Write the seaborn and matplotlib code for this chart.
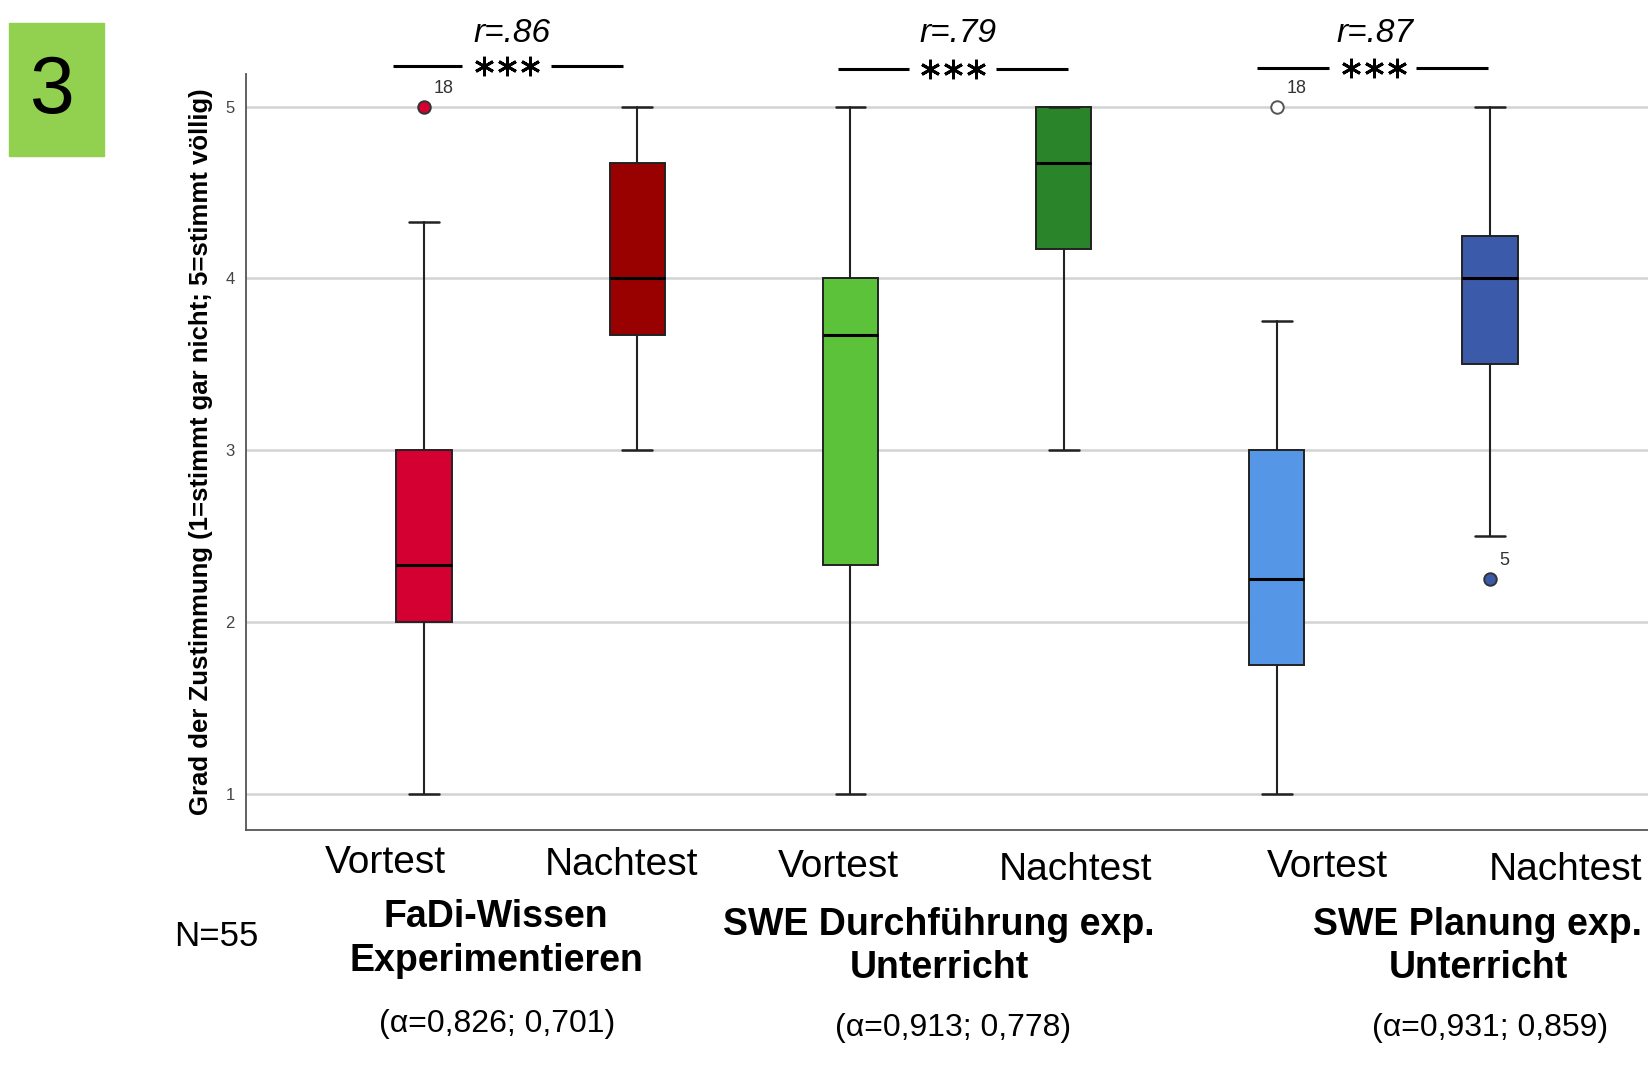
# Boxplots Vortest / Nachtest fuer drei Skalen (N=55)

import matplotlib
matplotlib.use('Agg')
import matplotlib.pyplot as plt
import seaborn as sns

sns.set_theme(style='white')
plt.rcParams['font.family'] = ['Liberation Sans', 'DejaVu Sans']
plt.rcParams['text.color'] = 'black'
plt.rcParams['axes.labelcolor'] = 'black'

# Daten
tests = ['Vortest', 'Nachtest', 'Vortest', 'Nachtest', 'Vortest', 'Nachtest']
scale_line1 = ['FaDi-Wissen', 'SWE Durchführung exp.', 'SWE Planung exp.']
scale_line2 = ['Experimentieren', 'Unterricht', 'Unterricht']
alphas = ['(α=0,826; 0,701)', '(α=0,913; 0,778)', '(α=0,931; 0,859)']
r_values = ['r=.86', 'r=.79', 'r=.87']
whislo = [1.0, 3.0, 1.0, 3.0, 1.0, 2.5]
q1 = [2.0, 3.67, 2.33, 4.17, 1.75, 3.5]
med = [2.33, 4.0, 3.67, 4.67, 2.25, 4.0]
q3 = [3.0, 4.67, 4.0, 5.0, 3.0, 4.25]
whishi = [4.33, 5.0, 5.0, 5.0, 3.75, 5.0]
fliers = [[5.0], [], [], [], [5.0], [2.25]]
flier_ids = [['18'], [], [], [], ['18'], ['5']]
colors = ['#D50032', '#990000', '#5CC23A', '#2A8429', '#5596E6', '#3C5AAA']
flier_fill = ['#D50032', None, None, None, 'white', '#3C5AAA']

# Layout (Pixelpositionen der Beschriftungen)
tick_x = [385, 622, 838, 1076, 1327, 1566]
tick_y = [863, 865, 867, 870, 867, 870]
scale_x = [496, 939, 1478]
line1_y = [917, 925, 925]
line2_y = [961, 968, 968]
alpha_x = [497, 953, 1490]
alpha_y = [1024, 1028, 1028]
r_x = [512, 958, 1375]
r_y = 34
sig_left = [(393, 462), (838, 909), (1257, 1329)]
sig_right = [(551, 623), (996, 1068), (1416, 1488)]
sig_y = [66, 69, 68]
star_x = [507, 953, 1374]

W, H = 1648, 1079
fig = plt.figure(figsize=(W / 100, H / 100), dpi=100)
ax = fig.add_axes([246 / W, 1 - 830 / H, 1 - 246 / W, (830 - 74) / H])

stats = []
for i in range(len(tests)):
    stats.append({'whislo': whislo[i], 'q1': q1[i], 'med': med[i], 'q3': q3[i],
                  'whishi': whishi[i], 'fliers': fliers[i], 'label': tests[i]})

positions = list(range(len(tests)))
bp = ax.bxp(stats, positions=positions, widths=0.26, capwidths=0.14,
            patch_artist=True, showfliers=True,
            boxprops=dict(edgecolor='#222222', linewidth=1.4),
            medianprops=dict(color='black', linewidth=2.2),
            whiskerprops=dict(color='#222222', linewidth=1.5),
            capprops=dict(color='#222222', linewidth=1.8),
            flierprops=dict(marker='o', markersize=9, markeredgewidth=1.4))

for i, box in enumerate(bp['boxes']):
    box.set_facecolor(colors[i])
for i, fl in enumerate(bp['fliers']):
    if flier_fill[i] is None:
        continue
    fl.set_markerfacecolor(flier_fill[i])
    fl.set_markeredgecolor('#555555' if flier_fill[i] == 'white' else '#333333')
    for v, lab in zip(fliers[i], flier_ids[i]):
        ax.annotate(lab, xy=(positions[i], v), xytext=(7, 7), textcoords='offset points',
                    fontsize=13, color='#333333', ha='left', va='bottom')

ax.set_xlim(-0.836, 5.742)
ax.set_ylim(0.79, 5.19)
ax.set_yticks([1, 2, 3, 4, 5])
ax.set_yticklabels(['1', '2', '3', '4', '5'], fontsize=12, color='#444444')
ax.tick_params(axis='y', length=0, pad=8)
ax.set_xticks([])
ax.yaxis.grid(True, color='#D3D3D3', linewidth=1.8)
ax.set_axisbelow(True)
sns.despine(ax=ax, top=True, right=True)
for side in ['left', 'bottom']:
    ax.spines[side].set_color('#555555')
    ax.spines[side].set_linewidth(1.3)
ax.set_ylabel('Grad der Zustimmung (1=stimmt gar nicht; 5=stimmt völlig)',
              fontsize=18.5, fontweight='bold', labelpad=9, color='black')

# Overlay fuer Beschriftungen in Pixelkoordinaten
ann = fig.add_axes([0, 0, 1, 1], facecolor='none')
ann.set_xlim(0, W)
ann.set_ylim(H, 0)
ann.axis('off')

ann.add_patch(plt.Rectangle((9, 23), 95, 133, color='#92D050', zorder=1))
ann.text(52, 92, '3', fontsize=58, ha='center', va='center', color='black', zorder=2)

for i, t in enumerate(tests):
    ann.text(tick_x[i], tick_y[i], t, fontsize=28, ha='center', va='center')

for k in range(3):
    ann.text(scale_x[k], line1_y[k], scale_line1[k], fontsize=27, fontweight='bold',
             ha='center', va='center')
    ann.text(scale_x[k], line2_y[k], scale_line2[k], fontsize=27, fontweight='bold',
             ha='center', va='center')
    ann.text(alpha_x[k], alpha_y[k], alphas[k], fontsize=23, ha='center', va='center')
    ann.text(r_x[k], r_y, r_values[k], fontsize=24, style='italic', ha='center', va='center')
    for seg in (sig_left[k], sig_right[k]):
        ann.plot(seg, [sig_y[k], sig_y[k]], color='black', linewidth=2.2,
                 solid_capstyle='butt')
    ann.plot([star_x[k] - 23, star_x[k], star_x[k] + 23], [sig_y[k]] * 3,
             linestyle='none', marker=(6, 2, 0), markersize=14,
             markeredgewidth=2.1, color='black')

ann.text(216, 936, 'N=55', fontsize=25, ha='center', va='center')

fig.savefig('out.png', dpi=100)
